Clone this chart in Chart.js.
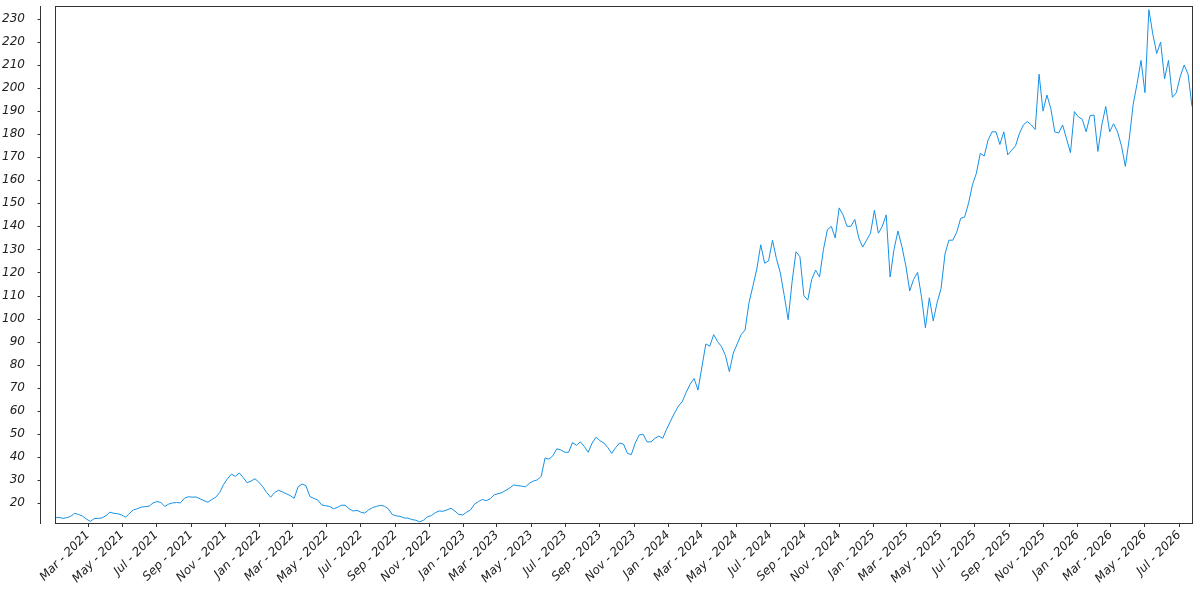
<!DOCTYPE html>
<html>
<head>
<meta charset="utf-8">
<script src="https://cdn.jsdelivr.net/npm/chart.js@4.4.1/dist/chart.umd.min.js"></script>
<style>
  html, body { margin: 0; padding: 0; background: #fff; }
  #wrap { width: 1200px; height: 600px; }
</style>
</head>
<body>
<div id="wrap"><canvas id="priceChart"></canvas></div>
<script>
// weekly closes, first one on firstWeek, one week apart
const firstWeek = "2021-01-01";
const weeklyClose = [
  13.5, 13.8, 13.3, 13.6, 14.2, 15.5, 15.0, 14.3, 13.0, 12.0,
  13.2, 13.3, 13.5, 14.5, 16.0, 15.5, 15.3, 14.8, 13.8, 15.5,
  17.0, 17.5, 18.2, 18.4, 18.6, 20.0, 20.6, 20.2, 18.5, 19.5,
  20.0, 20.2, 20.0, 22.0, 22.7, 22.5, 22.6, 21.8, 21.0, 20.3,
  21.5, 22.5, 24.5, 28.0, 30.5, 32.5, 31.5, 33.0, 31.0, 28.8,
  29.5, 30.5, 29.0, 27.0, 24.5, 22.5, 24.5, 25.5, 24.8, 24.0,
  23.2, 22.0, 27.0, 28.2, 27.5, 22.8, 22.0, 21.3, 19.2, 18.8,
  18.5, 17.5, 18.0, 19.0, 19.0, 17.5, 16.5, 16.8, 16.0, 15.6,
  17.0, 18.0, 18.5, 19.0, 18.6, 17.5, 15.0, 14.4, 14.2, 13.5,
  13.4, 12.8, 12.5, 11.8, 12.5, 14.0, 14.5, 15.8, 16.5, 16.4,
  17.0, 17.7, 16.5, 15.0, 14.8, 16.0, 17.0, 19.5, 20.6, 21.5,
  21.0, 21.8, 23.5, 24.0, 24.5, 25.5, 26.5, 27.8, 27.5, 27.3,
  27.0, 28.5, 29.5, 30.0, 31.5, 39.5, 39.0, 40.5, 43.5, 43.0,
  42.0, 42.0, 46.2, 45.0, 46.5, 44.5, 42.0, 46.0, 48.5, 47.0,
  46.0, 44.0, 41.5, 44.0, 46.0, 45.5, 41.5, 41.0, 46.0, 49.5,
  49.8, 46.5, 46.5, 48.0, 49.0, 48.0, 52.0, 55.5, 59.0, 62.0,
  64.0, 68.0, 71.5, 74.0, 69.0, 79.0, 89.0, 88.0, 93.0, 90.0,
  87.8, 84.0, 77.0, 85.0, 89.0, 93.0, 95.0, 106.8, 114.0, 121.5,
  132.0, 124.0, 125.0, 134.0, 126.0, 119.8, 110.0, 99.5, 116.0, 129.0,
  126.8, 110.0, 108.0, 117.0, 121.0, 118.0, 130.0, 138.5, 140.0, 135.0,
  148.0, 145.0, 140.0, 140.0, 143.0, 135.0, 131.0, 134.0, 137.0, 147.0,
  137.0, 140.0, 145.0, 118.0, 130.0, 138.0, 131.3, 123.0, 112.0, 117.0,
  120.0, 109.5, 96.0, 109.0, 99.0, 107.0, 113.0, 128.0, 134.0, 134.0,
  137.5, 143.5, 144.0, 150.0, 158.0, 163.0, 171.7, 170.5, 177.5, 181.0,
  181.0, 175.5, 181.0, 171.0, 173.0, 175.0, 180.4, 184.0, 185.5, 184.0,
  182.0, 206.0, 190.0, 197.0, 191.0, 181.0, 180.5, 184.0, 178.0, 172.0,
  189.8, 187.5, 186.5, 181.0, 188.0, 188.3, 172.5, 184.0, 192.0, 181.0,
  184.5, 181.0, 175.0, 166.0, 178.0, 193.0, 202.0, 212.0, 198.0, 234.0,
  223.5, 215.0, 220.0, 204.0, 212.0, 196.0, 198.0, 205.0, 210.0, 206.0,
  192.0
];

const tickLabels = [
  "Mar - 2021", "May - 2021", "Jul - 2021", "Sep - 2021", "Nov - 2021",
  "Jan - 2022", "Mar - 2022", "May - 2022", "Jul - 2022", "Sep - 2022", "Nov - 2022",
  "Jan - 2023", "Mar - 2023", "May - 2023", "Jul - 2023", "Sep - 2023", "Nov - 2023",
  "Jan - 2024", "Mar - 2024", "May - 2024", "Jul - 2024", "Sep - 2024", "Nov - 2024",
  "Jan - 2025", "Mar - 2025", "May - 2025", "Jul - 2025", "Sep - 2025", "Nov - 2025",
  "Jan - 2026", "Mar - 2026", "May - 2026", "Jul - 2026"
];
const yTicks = [20, 30, 40, 50, 60, 70, 80, 90, 100, 110, 120, 130, 140, 150, 160, 170, 180, 190, 200, 210, 220, 230];
const yMin = 11.3;
const yMax = 235.6;

const monthNames = ["Jan", "Feb", "Mar", "Apr", "May", "Jun", "Jul", "Aug", "Sep", "Oct", "Nov", "Dec"];
const DAY = 86400000;
const startMs = Date.parse(firstWeek);

// label "Mar - 2021" -> days since firstWeek
function labelToDay(label) {
  const [mon, year] = label.split(" - ");
  const ms = Date.UTC(parseInt(year), monthNames.indexOf(mon), 1);
  return Math.round((ms - startMs) / DAY);
}

const points = weeklyClose.map((v, i) => ({ x: i * 7, y: v }));
const lastDay = (weeklyClose.length - 1) * 7;
const tickDays = tickLabels.map(labelToDay);

const axisFont = { family: "'DejaVu Sans'", size: 12, style: "italic" };
const textColor = "#222";

// frame around the plot plus the detached y axis line
const framePlugin = {
  id: "frame",
  afterDraw(chart) {
    const { ctx, chartArea } = chart;
    const { left, right, top, bottom } = chartArea;
    const yScale = chart.scales.y;
    ctx.save();
    ctx.strokeStyle = "#333";
    ctx.lineWidth = 1;
    ctx.strokeRect(Math.round(left) + 0.5, Math.round(top) + 0.5, Math.round(right - left), Math.round(bottom - top));
    const ax = Math.round(left) - 14.5;
    ctx.beginPath();
    ctx.moveTo(ax, Math.round(top));
    ctx.lineTo(ax, Math.round(bottom) + 1);
    yTicks.forEach((v) => {
      const py = Math.round(yScale.getPixelForValue(v)) + 0.5;
      ctx.moveTo(ax - 3, py);
      ctx.lineTo(ax, py);
    });
    ctx.stroke();
    ctx.restore();
  },
};

const ctx = document.getElementById("priceChart").getContext("2d");
new Chart(ctx, {
  type: "line",
  data: {
    datasets: [
      {
        data: points,
        borderColor: "#1591e6",
        borderWidth: 1,
        pointRadius: 0,
        tension: 0,
        fill: false,
      },
    ],
  },
  options: {
    responsive: true,
    maintainAspectRatio: false,
    animation: false,
    layout: { padding: { top: 6, right: 8, left: 0, bottom: 0 } },
    plugins: { legend: { display: false }, tooltip: { enabled: false } },
    scales: {
      x: {
        type: "linear",
        min: 0,
        max: lastDay,
        afterBuildTicks: (scale) => {
          scale.ticks = tickDays.map((d) => ({ value: d }));
        },
        afterFit: (scale) => {
          scale.height = 77;
          scale.paddingLeft = 0;
          scale.paddingRight = 0;
          scale.paddingTop = 0;
          scale.paddingBottom = 0;
        },
        ticks: {
          autoSkip: false,
          maxRotation: 45,
          minRotation: 45,
          padding: 1,
          font: axisFont,
          color: textColor,
          callback: (value, index) => tickLabels[index],
        },
        grid: { display: true, drawOnChartArea: false, tickLength: 4, color: "#333" },
        border: { display: false },
      },
      y: {
        min: yMin,
        max: yMax,
        afterBuildTicks: (scale) => {
          scale.ticks = yTicks.map((v) => ({ value: v }));
        },
        afterFit: (scale) => {
          scale.width = 55;
          scale.paddingLeft = 0;
          scale.paddingRight = 0;
          scale.paddingTop = 0;
          scale.paddingBottom = 0;
        },
        ticks: { padding: 22, font: axisFont, color: textColor },
        grid: { display: false },
        border: { display: false },
      },
    },
  },
  plugins: [framePlugin],
});
</script>
</body>
</html>
